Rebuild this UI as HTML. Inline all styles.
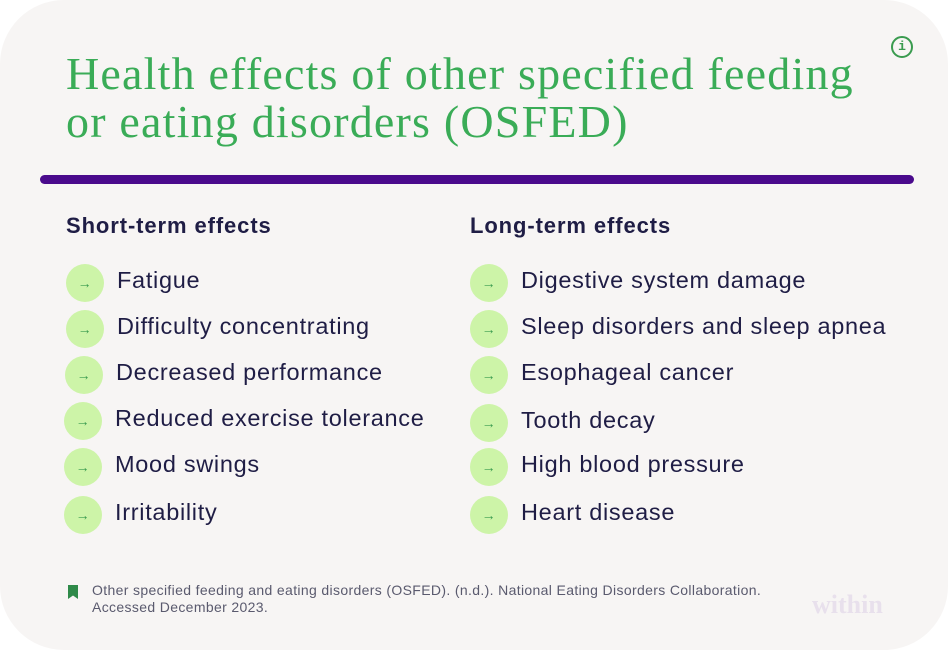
<!DOCTYPE html>
<html><head><meta charset="utf-8"><style>
body{margin:0;width:948px;height:650px;background:#fff;position:relative;overflow:hidden;font-family:"Liberation Sans",sans-serif}
.card{position:absolute;left:0;top:0;width:948px;height:650px;background:#f7f5f4;border-radius:64px}
.t{position:absolute;left:66px;top:50px;font-family:"Liberation Serif",serif;color:#3aac57;font-size:46px;line-height:48px;letter-spacing:1.2px}
.bar{position:absolute;left:40px;top:175px;width:874px;height:9px;background:#4a0a8c;border-radius:5px}
.h{position:absolute;top:213px;font-weight:bold;font-size:22px;color:#1f1d45;letter-spacing:0.9px}
.it{position:absolute;height:38px;display:flex;align-items:center;font-size:23.5px;color:#1f1d45;letter-spacing:0.7px}
.it span.tx{position:relative;top:-3px}
.c{width:38px;height:38px;border-radius:50%;background:#cdf4a8;color:#3a9b4f;font-size:14px;display:flex;align-items:center;justify-content:center;margin-right:13px}
.info{position:absolute;left:891px;top:36px;width:18px;height:18px;border:2px solid #3a9b4f;border-radius:50%;color:#3a9b4f;font-size:13px;font-weight:bold;text-align:center;line-height:18px;font-family:"Liberation Mono",monospace}
.src{position:absolute;left:92px;top:582px;font-size:14px;line-height:17px;color:#5a5a6e;letter-spacing:0.35px}
.bm{position:absolute;left:68px;top:585px;width:10px;height:14px;background:#2f8a49;clip-path:polygon(0 0,100% 0,100% 100%,50% 75%,0 100%)}
.logo{position:absolute;left:812px;top:590px;font-family:"Liberation Serif",serif;font-weight:bold;font-size:26px;color:#e8e0ec}
</style></head><body>
<div class="card"></div>
<div class="t">Health effects of other specified feeding<br>or eating disorders (OSFED)</div>
<div class="info">i</div>
<div class="bar"></div>
<div class="h" style="left:66px">Short-term effects</div>
<div class="h" style="left:470px">Long-term effects</div>
<div class="it" style="left:66px;top:264px"><span class="c">→</span><span class="tx">Fatigue</span></div>
<div class="it" style="left:66px;top:310px"><span class="c">→</span><span class="tx">Difficulty concentrating</span></div>
<div class="it" style="left:65px;top:356px"><span class="c">→</span><span class="tx">Decreased performance</span></div>
<div class="it" style="left:64px;top:402px"><span class="c">→</span><span class="tx">Reduced exercise tolerance</span></div>
<div class="it" style="left:64px;top:448px"><span class="c">→</span><span class="tx">Mood swings</span></div>
<div class="it" style="left:64px;top:496px"><span class="c">→</span><span class="tx">Irritability</span></div>
<div class="it" style="left:470px;top:264px"><span class="c">→</span><span class="tx">Digestive system damage</span></div>
<div class="it" style="left:470px;top:310px"><span class="c">→</span><span class="tx">Sleep disorders and sleep apnea</span></div>
<div class="it" style="left:470px;top:356px"><span class="c">→</span><span class="tx">Esophageal cancer</span></div>
<div class="it" style="left:470px;top:404px"><span class="c">→</span><span class="tx">Tooth decay</span></div>
<div class="it" style="left:470px;top:448px"><span class="c">→</span><span class="tx">High blood pressure</span></div>
<div class="it" style="left:470px;top:496px"><span class="c">→</span><span class="tx">Heart disease</span></div>
<div class="bm"></div>
<div class="src">Other specified feeding and eating disorders (OSFED). (n.d.). National Eating Disorders Collaboration.<br>Accessed December 2023.</div>
<div class="logo">within</div>
</body></html>
